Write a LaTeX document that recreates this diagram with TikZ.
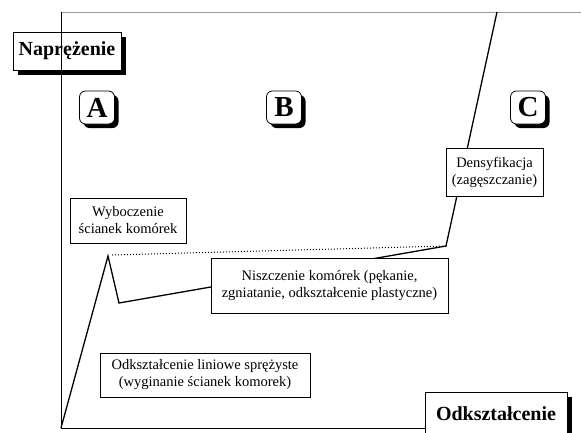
\documentclass[tikz,border=0pt]{standalone}
\usepackage{fontspec}
\setmainfont{Liberation Serif}
\usetikzlibrary{shadows}
\begin{document}
\begin{tikzpicture}[x=1pt,y=-1pt,
  txtbox/.style={draw,fill=white,line width=0.7pt,align=center,inner sep=0pt,
    font=\fontsize{14.5}{17}\selectfont},
  axlabel/.style={draw,fill=white,line width=0.7pt,inner sep=0pt,
    font=\fontsize{20}{22}\selectfont\bfseries,
    drop shadow={shadow xshift=5pt,shadow yshift=-5pt,fill=black,opacity=1}},
  region/.style={draw,fill=white,line width=0.8pt,rounded corners=6pt,inner sep=0pt,
    minimum width=35pt,minimum height=33pt,
    font=\fontsize{29}{30}\selectfont\bfseries,
    drop shadow={shadow xshift=4pt,shadow yshift=-4pt,fill=black,opacity=1}},
  curve/.style={line width=1.3pt,line join=miter},
  axis/.style={line width=0.7pt}]
\useasboundingbox (0,0) rectangle (581,432);
% axes
\coordinate (O) at (61,428);
\coordinate (Ytop) at (61,12);
\coordinate (Xend) at (581,12);
\draw[gray!80,line width=0.7pt] (Ytop) -- (Xend);
% curve
\coordinate (P) at (108,256);
\coordinate (V) at (119,303);
\coordinate (K) at (446,246);
\coordinate (T) at (497,12);
\coordinate (Pd) at (112,255);
\draw[curve] (O) -- (P) -- (V) -- (K) -- (T);
\draw[line width=1pt,dotted] (Pd) -- (K);
% boxes
\node[axlabel,minimum width=108pt,minimum height=38pt] (nap) at (67,51) {Naprężenie};
\node[axlabel,minimum width=142pt,minimum height=44pt] (odk) at (496,414) {Odkształcenie};
\draw[axis] (Ytop) -- (O) -- (odk.west |- O);
\node[region] (A) at (97,107.5) {A};
\node[region] (B) at (284,107.5) {B};
\node[region] (C) at (528,107.5) {C};
\node[txtbox,minimum width=97pt,minimum height=48pt] (dens) at (494.5,172) {Densyfikacja\\(zagęszczanie)};
\node[txtbox,minimum width=116pt,minimum height=45pt] (wyb) at (128,220.5) {Wyboczenie\\ścianek komórek};
\node[txtbox,minimum width=237pt,minimum height=55pt] (nisz) at (329.5,285.5) {Niszczenie komórek (pękanie,\\zgniatanie, odkształcenie plastyczne)};
\node[txtbox,minimum width=210pt,minimum height=44pt] (lin) at (205,375) {Odkształcenie liniowe sprężyste\\(wyginanie ścianek komorek)};
\end{tikzpicture}
\end{document}
